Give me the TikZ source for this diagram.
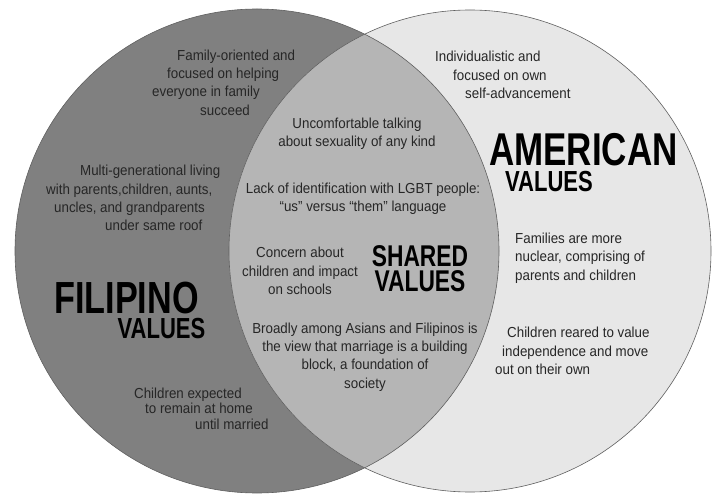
\documentclass[tikz,border=0pt]{standalone}
\usepackage{fontspec}
\setmainfont[FakeStretch=0.92]{Liberation Sans}
\newfontfamily\headfont[FakeStretch=0.76]{Liberation Sans}
\usepackage{tikz}
\usepackage{color}

\definecolor{filgray}{RGB}{128,128,128}
\definecolor{amgray}{RGB}{231,231,231}
\definecolor{shgray}{RGB}{181,181,181}
\definecolor{rimgray}{RGB}{95,95,95}

\tikzset{
  txt/.style={inner sep=0pt, text=black!85, font=\fontsize{14.5}{18.3}\selectfont},
  lefttxt/.style={txt, anchor=west, align=left},
  midtxt/.style={txt, align=center},
  head/.style={inner sep=0pt, text=black, font=\headfont\bfseries\fontsize{#1}{#1}\selectfont}
}

\begin{document}
\begin{tikzpicture}[x=1pt,y=-1pt]
\useasboundingbox (0,0) rectangle (715,494);

\coordinate (fc) at (257,251);
\coordinate (ac) at (470,251);

\fill[filgray] (fc) circle[radius=242pt];
\fill[amgray] (ac) circle[radius=241pt];
\begin{scope}
\clip (fc) circle[radius=242pt];
\fill[shgray] (ac) circle[radius=241pt];
\end{scope}
\draw[rimgray, line width=0.6pt] (fc) circle[radius=242pt];
\draw[rimgray, line width=0.6pt] (ac) circle[radius=241pt];

\node[lefttxt] (famtxt) at (152,82.5) {\hspace*{25pt}Family-oriented and\\\hspace*{15pt}focused on helping\\everyone in family\\\hspace*{48pt}succeed};
\node[lefttxt] (multtxt) at (46,198) {\hspace*{34pt}Multi-generational living\\with parents,children, aunts,\\\hspace*{8pt}uncles, and grandparents\\\hspace*{59pt}under same roof};
\node[head=45] (filtitle) at (126.5,298) {FILIPINO};
\node[head=29] (filsub) at (161.5,329) {VALUES};
\node[lefttxt, font=\fontsize{14.5}{15.5}\selectfont] (hometxt) at (134,408.5) {Children expected\\\hspace*{11pt}to remain at home\\\hspace*{61pt}until married};

\node[midtxt] (sextxt) at (357,134) {Uncomfortable talking\\about sexuality of any kind};
\node[midtxt] (lgbttxt) at (363,199) {Lack of identification with LGBT people:\\``us'' versus ``them'' language};
\node[midtxt] (schtxt) at (300,271) {Concern about\\children and impact\\on schools};
\node[head=30] (shtitle) at (420,256) {SHARED};
\node[head=30] (shsub) at (420,281) {VALUES};
\node[midtxt] (martxt) at (365,357) {Broadly among Asians and Filipinos is\\the view that marriage is a building\\block, a foundation of\\society};

\node[lefttxt] (indtxt) at (435,75) {Individualistic and\\\hspace*{18pt}focused on own\\\hspace*{30pt}self-advancement};
\node[head=46] (amtitle) at (583.5,150) {AMERICAN};
\node[head=29] (amsub) at (549,182) {VALUES};
\node[lefttxt] (nuctxt) at (515,258) {Families are more\\nuclear, comprising of\\parents and children};
\node[lefttxt] (reartxt) at (495,351) {\hspace*{12pt}Children reared to value\\\hspace*{7pt}independence and move\\out on their own};
\end{tikzpicture}
\end{document}
